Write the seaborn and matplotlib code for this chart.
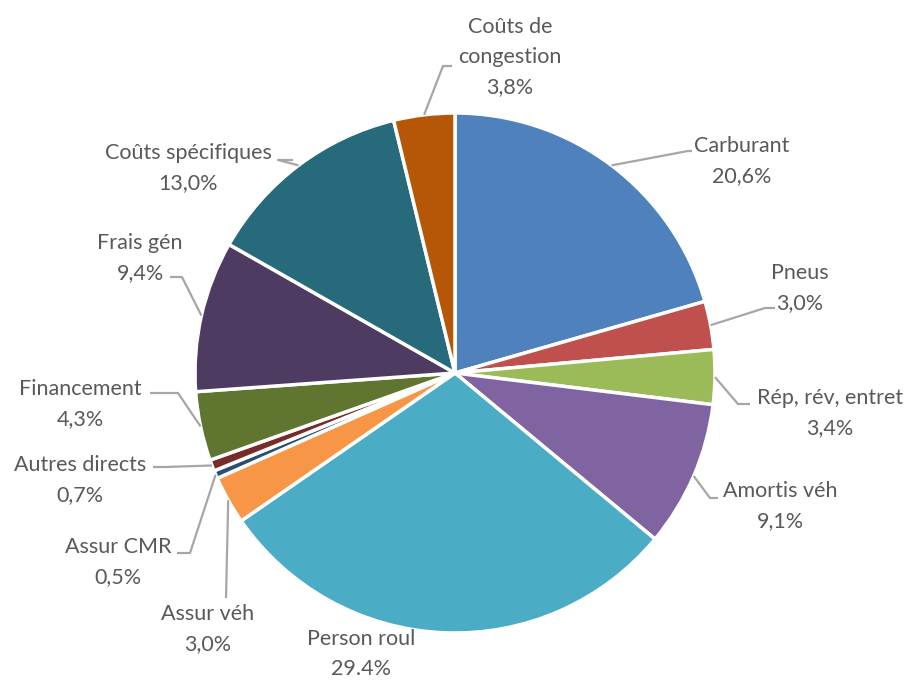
import numpy as np
import seaborn as sns
import matplotlib
matplotlib.use("Agg")
import matplotlib.pyplot as plt

# Data
labels = ["Carburant", "Pneus", "Rép, rév, entret", "Amortis véh", "Person roul",
          "Assur véh", "Assur CMR", "Autres directs", "Financement", "Frais gén",
          "Coûts spécifiques", "Coûts de\ncongestion"]
values = [20.6, 3.0, 3.4, 9.1, 29.4, 3.0, 0.5, 0.7, 4.3, 9.4, 13.0, 3.8]
pct_text = ["20,6%", "3,0%", "3,4%", "9,1%", "29.4%", "3,0%", "0,5%", "0,7%",
            "4,3%", "9,4%", "13,0%", "3,8%"]
colors = ["#4F81BD", "#C0504D", "#9BBB59", "#8064A2", "#4BACC6", "#F79646",
          "#2C4D75", "#772C2A", "#5F7530", "#4D3B62", "#276A7C", "#B65708"]

sns.set_theme(style="white")
plt.rcParams['font.family'] = ['Lato', 'DejaVu Sans']

W, H = 911, 682
fig = plt.figure(figsize=(W / 100, H / 100), dpi=100)
ax = fig.add_axes([0, 0, 1, 1])

cx, cy, R = 455, H - 373, 260
wedges, _ = ax.pie(values, colors=sns.color_palette(colors), startangle=90,
                   counterclock=False, center=(cx, cy), radius=R,
                   wedgeprops=dict(edgecolor="white", linewidth=2.5))
ax.set_xlim(0, W)
ax.set_ylim(0, H)
ax.set_aspect("equal")
ax.axis("off")

# label placement (image pixel coords, y down): text center, elbow, line end
layout = [
    ((742, 161), (688, 151), (692, 151)),
    ((800, 288), (765, 308), (775, 308)),
    ((830, 413), (738, 404), (750, 404)),
    ((780, 506), (710, 498), (718, 498)),
    ((361, 654), None, None),
    ((208, 629), (226, 598), (226, 598)),
    ((118, 562), (190, 553), (177, 553)),
    ((80, 480), (165, 467), (153, 467)),
    ((80, 404), (178, 393), (150, 393)),
    ((140, 258), (182, 277), (170, 277)),
    ((188, 168), (278, 160), (293, 160)),
    ((510, 57), (443, 66), (452, 66)),
]

for w, lab, pct, (txt, elbow, end) in zip(wedges, labels, pct_text, layout):
    ax.text(txt[0], H - txt[1], lab + "\n" + pct, ha="center", va="center",
            multialignment="center", fontsize=15.5, color="#595959", linespacing=1.65)
    if elbow is None:
        continue
    mid = np.deg2rad((w.theta1 + w.theta2) / 2)
    ax_x = cx + R * np.cos(mid)
    ax_y = cy + R * np.sin(mid)
    ax.plot([ax_x, elbow[0], end[0]], [ax_y, H - elbow[1], H - end[1]],
            color="#A6A6A6", lw=1.6, solid_capstyle="butt")

fig.savefig("out.png", dpi=100)
